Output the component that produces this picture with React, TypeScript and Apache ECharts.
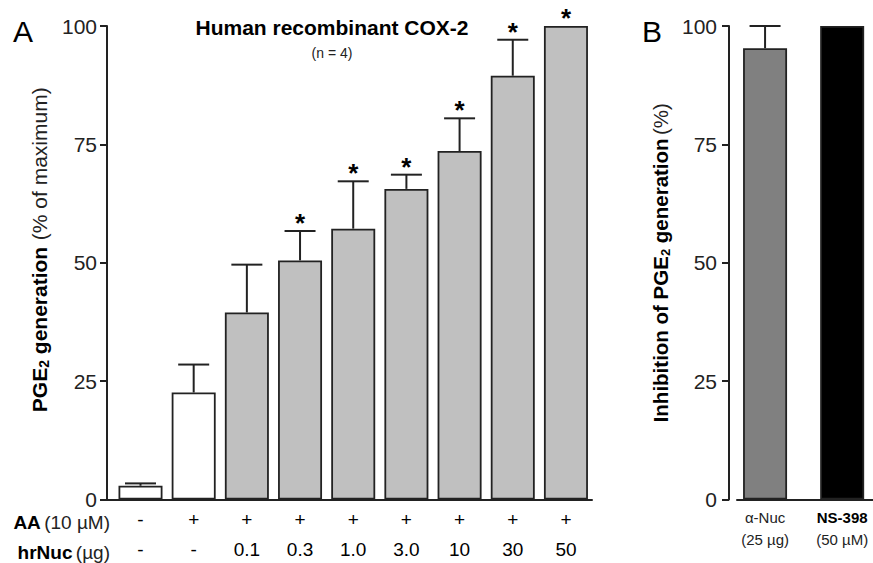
import React, { useEffect, useRef } from "react";
import * as echarts from "echarts";

// ---- Data ----
const AA_ROW = ["-", "+", "+", "+", "+", "+", "+", "+", "+"];
const NUC_ROW = ["-", "-", "0.1", "0.3", "1.0", "3.0", "10", "30", "50"];
const PGE_MEAN = [2.9, 22.6, 39.5, 50.5, 57.2, 65.6, 73.6, 89.5, 100];
const PGE_SEM = [0.5, 5.9, 10.1, 6.2, 10.0, 3.0, 6.9, 7.6, 0];
const PGE_SIG = [0, 0, 0, 1, 1, 1, 1, 1, 1];
const PGE_COLORS = ["#ffffff", "#ffffff", "#c0c0c0", "#c0c0c0", "#c0c0c0", "#c0c0c0", "#c0c0c0", "#c0c0c0", "#c0c0c0"];

const B_NAMES = ["α-Nuc", "NS-398"];
const B_DOSES = ["(25 µg)", "(50 µM)"];
const B_MEAN = [95.3, 100];
const B_SEM = [4.7, 0];
const B_COLORS = ["#808080", "#000000"];

const Y_MIN = 0;
const Y_MAX = 100;
const Y_STEP = 25;

const FONT = "'Liberation Sans', Arial, Helvetica, sans-serif";
const INK = "#222222";

export default function App() {
  const ref = useRef<HTMLDivElement>(null);

  useEffect(() => {
    if (!ref.current) return;
    const chart = echarts.init(ref.current, null, { renderer: "svg" });

    const errRender = (params: any, api: any) => {
      const x = api.value(0);
      const m = api.value(1);
      const s = api.value(2);
      const sig = api.value(3);
      const base = api.coord([x, m]);
      const top = api.coord([x, m + s]);
      const children: any[] = [];
      if (s > 0) {
        children.push({
          type: "line",
          shape: { x1: base[0], y1: base[1], x2: top[0], y2: top[1] },
          style: { stroke: INK, lineWidth: 2 },
        });
        children.push({
          type: "line",
          shape: { x1: top[0] - 15.5, y1: top[1], x2: top[0] + 15.5, y2: top[1] },
          style: { stroke: INK, lineWidth: 2 },
        });
      }
      if (sig) {
        children.push({
          type: "text",
          x: top[0],
          y: top[1] - 8,
          style: {
            text: "*",
            fontFamily: FONT,
            fontSize: 26,
            fontWeight: "bold",
            fill: "#000",
            align: "center",
            verticalAlign: "middle",
          },
        });
      }
      return { type: "group", children };
    };

    const yAxisBase = (gridIndex: number, offset: number, margin: number, name: string) => ({
      type: "value",
      gridIndex,
      min: Y_MIN,
      max: Y_MAX,
      interval: Y_STEP,
      offset,
      axisLine: { show: true, onZero: false, lineStyle: { color: INK, width: 2 } },
      axisTick: { show: true, inside: false, length: 7, lineStyle: { color: INK, width: 2 } },
      axisLabel: { color: INK, fontSize: 21, fontFamily: FONT, margin },
      splitLine: { show: false },
      name,
      nameLocation: "middle",
      nameRotate: 90,
    });

    const option: any = {
      animation: false,
      backgroundColor: "#ffffff",
      grid: [
        { left: 107, top: 26, width: 485, bottom: 63.5, outerBoundsMode: "none", containLabel: false },
        { left: 737, top: 26, right: 0, bottom: 63.5, outerBoundsMode: "none", containLabel: false },
      ],
      xAxis: [
        {
          type: "value",
          gridIndex: 0,
          min: -0.63,
          max: 8.49,
          axisLine: { show: true, onZero: false, lineStyle: { color: INK, width: 2 } },
          axisTick: { show: false },
          splitLine: { show: false },
          axisLabel: {
            customValues: AA_ROW.map((_, i) => i),
            formatter: (v: number) => {
              const i = Math.round(v);
              return `${AA_ROW[i]}\n${NUC_ROW[i]}`;
            },
            color: "#000",
            fontSize: 19,
            fontFamily: FONT,
            lineHeight: 30,
            margin: 5,
          },
        },
        {
          type: "value",
          gridIndex: 1,
          min: -0.364,
          max: 1.4,
          axisLine: { show: true, onZero: false, lineStyle: { color: INK, width: 2 } },
          axisTick: { show: false },
          splitLine: { show: false },
          axisLabel: {
            customValues: B_NAMES.map((_, i) => i),
            formatter: (v: number) => {
              const i = Math.round(v);
              const tag = i === 1 ? "b" : "n";
              return `{${tag}|${B_NAMES[i]}}\n{n|${B_DOSES[i]}}`;
            },
            margin: 7,
            rich: {
              n: { fontSize: 15, fontFamily: FONT, color: INK, lineHeight: 22 },
              b: { fontSize: 15, fontFamily: FONT, color: "#000", fontWeight: "bold", lineHeight: 22 },
            },
          },
        },
      ],
      yAxis: [
        {
          ...yAxisBase(0, 0, 10, "{b|PGE}{s|2}{b| generation}  {n|(% of maximum)}"),
          nameGap: 56,
          nameTextStyle: {
            padding: [0, 0, 0, 26],
            rich: {
              b: { fontSize: 21, fontWeight: "bold", fontFamily: FONT, color: "#000", lineHeight: 24 },
              s: { fontSize: 14, fontWeight: "bold", fontFamily: FONT, color: "#000", verticalAlign: "bottom", lineHeight: 18 },
              n: { fontSize: 21, fontFamily: FONT, color: INK, lineHeight: 24 },
            },
          },
        },
        {
          ...yAxisBase(1, 8, 12, "{b|Inhibition of PGE}{s|2}{b| generation} {n|(%)}"),
          nameGap: 57,
          nameTextStyle: {
            rich: {
              b: { fontSize: 20.5, fontWeight: "bold", fontFamily: FONT, color: "#000", lineHeight: 24 },
              s: { fontSize: 13, fontWeight: "bold", fontFamily: FONT, color: "#000", verticalAlign: "bottom", lineHeight: 18 },
              n: { fontSize: 20.5, fontFamily: FONT, color: INK, lineHeight: 24 },
            },
          },
        },
      ],
      graphic: [
        {
          type: "text",
          left: 13,
          top: 16,
          style: { text: "A", fontSize: 30, fontFamily: FONT, fill: "#000" },
        },
        {
          type: "text",
          left: 642,
          top: 16,
          style: { text: "B", fontSize: 30, fontFamily: FONT, fill: "#000" },
        },
        {
          type: "text",
          x: 332,
          y: 27,
          style: {
            text: "Human recombinant COX-2",
            fontSize: 21,
            fontWeight: "bold",
            fontFamily: FONT,
            fill: "#000",
            align: "center",
            verticalAlign: "middle",
          },
        },
        {
          type: "text",
          x: 332,
          y: 53,
          style: {
            text: "(n = 4)",
            fontSize: 14,
            fontFamily: FONT,
            fill: INK,
            align: "center",
            verticalAlign: "middle",
          },
        },
        {
          type: "text",
          x: 110,
          y: 522,
          style: {
            text: "{b|AA} {n|(10 µM)}",
            align: "right",
            verticalAlign: "middle",
            rich: {
              b: { fontSize: 19, fontWeight: "bold", fontFamily: FONT, fill: "#000" },
              n: { fontSize: 19, fontFamily: FONT, fill: INK },
            },
          },
        },
        {
          type: "text",
          x: 110,
          y: 552,
          style: {
            text: "{b|hrNuc} {n|(µg)}",
            align: "right",
            verticalAlign: "middle",
            rich: {
              b: { fontSize: 19, fontWeight: "bold", fontFamily: FONT, fill: "#000" },
              n: { fontSize: 19, fontFamily: FONT, fill: INK },
            },
          },
        },
      ],
      series: [
        {
          type: "bar",
          xAxisIndex: 0,
          yAxisIndex: 0,
          barWidth: 44,
          data: PGE_MEAN.map((v, i) => ({
            value: [i, v],
            itemStyle: { color: PGE_COLORS[i], borderColor: INK, borderWidth: 1.8 },
          })),
        },
        {
          type: "custom",
          xAxisIndex: 0,
          yAxisIndex: 0,
          z: 5,
          clip: false,
          renderItem: errRender,
          data: PGE_MEAN.map((v, i) => [i, v, PGE_SEM[i], PGE_SIG[i]]),
        },
        {
          type: "bar",
          xAxisIndex: 1,
          yAxisIndex: 1,
          barWidth: 44,
          data: B_MEAN.map((v, i) => ({
            value: [i, v],
            itemStyle: { color: B_COLORS[i], borderColor: INK, borderWidth: 1.8 },
          })),
        },
        {
          type: "custom",
          xAxisIndex: 1,
          yAxisIndex: 1,
          z: 5,
          clip: false,
          renderItem: errRender,
          data: B_MEAN.map((v, i) => [i, v, B_SEM[i], 0]),
        },
      ],
    };

    chart.setOption(option);
    return () => chart.dispose();
  }, []);

  return (
    <div
      ref={ref}
      style={{ position: "fixed", left: 0, top: 0, width: 873, height: 563, background: "#fff" }}
    />
  );
}
